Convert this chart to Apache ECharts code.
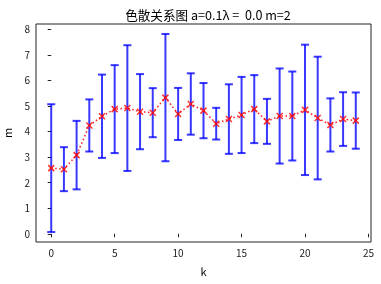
<!DOCTYPE html>
<html><head><meta charset="utf-8">
<script src="https://cdn.jsdelivr.net/npm/echarts@6/dist/echarts.min.js"></script>
<style>html,body{margin:0;padding:0;background:#fff}#c{width:381px;height:284px}</style>
</head><body><div id="c"></div>
<script>
const ks = [0,1,2,3,4,5,6,7,8,9,10,11,12,13,14,15,16,17,18,19,20,21,22,23,24];
const meanM = [2.57,2.53,3.08,4.24,4.60,4.88,4.92,4.78,4.74,5.33,4.69,5.08,4.82,4.31,4.49,4.65,4.88,4.40,4.61,4.61,4.85,4.53,4.26,4.49,4.43];
const errM = [2.50,0.86,1.34,1.02,1.63,1.72,2.46,1.47,0.96,2.49,1.02,1.20,1.08,0.62,1.36,1.49,1.33,0.88,1.86,1.74,2.55,2.40,1.04,1.05,1.10];
const xTicks = [0,5,10,15,20,25];
const yTicks = [0,1,2,3,4,5,6,7,8];
const titleText = '色散关系图 a=0.1λ =  0.0 m=2';

const font = '"Noto Sans CJK SC", "DejaVu Sans", sans-serif';
const ebData = ks.map((k,i)=>[k, meanM[i]-errM[i], meanM[i]+errM[i]]);
const ptData = ks.map((k,i)=>[k, meanM[i]]);
const chart = echarts.init(document.getElementById('c'), null, {renderer:'canvas'});
const ebColor = 'rgba(0,0,255,0.78)';
chart.setOption({
  animation:false,
  title:{text:titleText, left:203, textAlign:'center', top:4, textStyle:{fontFamily:font, fontSize:12.6, fontWeight:'normal', color:'#000'}},
  grid:{left:36, right:10, top:24, bottom:42, show:true, borderColor:'#222', borderWidth:1, backgroundColor:'transparent', containLabel:false, outerBoundsMode:'none'},
  xAxis:{type:'value', min:-1.2, max:25.2, name:'k', nameLocation:'middle', nameGap:24,
    nameTextStyle:{fontFamily:font, fontSize:11, color:'#000'},
    axisLine:{show:false}, splitLine:{show:false},
    axisTick:{show:true, inside:false, length:3.5, customValues:xTicks, lineStyle:{color:'#222'}},
    axisLabel:{customValues:xTicks, fontFamily:font, fontSize:10, color:'#222', margin:6}},
  yAxis:{type:'value', min:-0.32, max:8.21, name:'m', nameLocation:'middle', nameGap:22, nameRotate:90,
    nameTextStyle:{fontFamily:font, fontSize:11, color:'#000'},
    axisLine:{show:false}, splitLine:{show:false},
    axisTick:{show:true, inside:false, length:3.5, customValues:yTicks, lineStyle:{color:'#222'}},
    axisLabel:{customValues:yTicks, fontFamily:font, fontSize:10, color:'#222', margin:6}},
  series:[
    {type:'custom', data:ebData, encode:{x:0,y:[1,2]}, z:2,
     renderItem:function(params, api){
       const x=api.value(0), lo=api.value(1), hi=api.value(2);
       const a=api.coord([x,lo]), b=api.coord([x,hi]);
       const hw=4;
       const st={stroke:ebColor, lineWidth:2};
       return {type:'group', children:[
         {type:'line', shape:{x1:a[0],y1:a[1],x2:b[0],y2:b[1]}, style:st},
         {type:'line', shape:{x1:a[0]-hw,y1:a[1],x2:a[0]+hw,y2:a[1]}, style:st},
         {type:'line', shape:{x1:b[0]-hw,y1:b[1],x2:b[0]+hw,y2:b[1]}, style:st}
       ]};
     }},
    {type:'line', data:ptData, z:3, showSymbol:false, symbol:'none',
     lineStyle:{color:'rgba(255,0,0,0.9)', width:1.5, type:[1.5,2.5]}},
    {type:'scatter', data:ptData, z:4, symbol:'path://M0,0L10,10M10,0L0,10', symbolSize:6,
     itemStyle:{color:'none', borderColor:'#ff0000', borderWidth:1.5}}
  ]
});
</script></body></html>
